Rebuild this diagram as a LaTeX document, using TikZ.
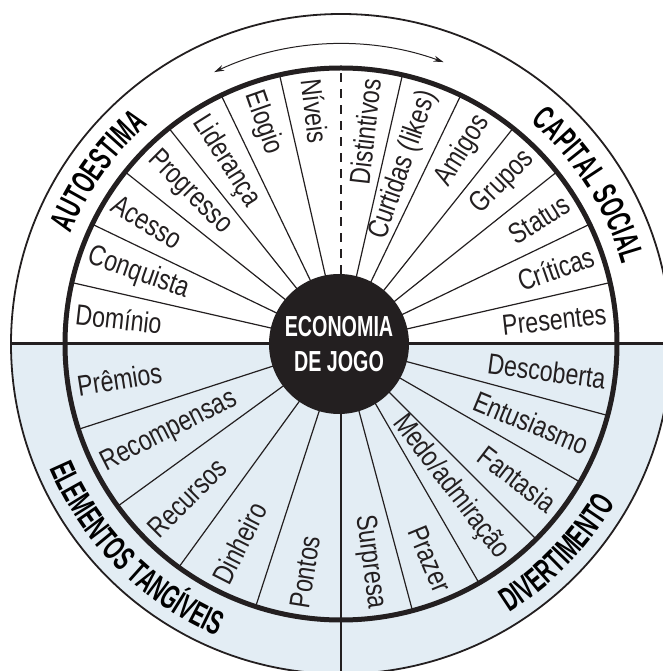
\documentclass[tikz,border=0pt]{standalone}
\usepackage{fontspec}
\setmainfont{Liberation Sans}
\newfontfamily\spokefont{Liberation Sans}[FakeStretch=0.8]
\newfontfamily\headfont{Liberation Sans}[FakeStretch=0.6]
\newfontfamily\hubfont{Liberation Sans}[FakeStretch=0.68]
\usetikzlibrary{decorations.text,arrows.meta}
\definecolor{ink}{HTML}{231F20}
\definecolor{paleblue}{HTML}{E3EDF4}
\newcommand\sectorhead{\headfont\bfseries\fontsize{34}{34}\selectfont}
\begin{document}
\begin{tikzpicture}[
  spoke/.style={line width=1.2pt, draw=ink},
  rim/.style={line width=5pt, draw=ink},
  outerrim/.style={line width=1.8pt, draw=ink},
  divider/.style={line width=3pt, draw=ink},
  item/.style={inner sep=0pt, text=ink, font=\spokefont\fontsize{29}{29}\selectfont},
  hub/.style={circle, fill=ink, minimum size=140pt, inner sep=0pt, text=white,
    align=center, font=\hubfont\bfseries\fontsize{29}{35}\selectfont},
  arcarrow/.style={line width=1pt, draw=ink, {Stealth[length=10pt,width=6pt]}-{Stealth[length=10pt,width=6pt]}},
  head/.style={decorate, decoration={text along path, text align=center}},
]
\useasboundingbox (-341pt,-327pt) rectangle (321pt,344pt);

% lower half of the wheel is tinted
\fill[paleblue] (-330pt,0pt) arc[start angle=180, end angle=360, radius=330pt] -- cycle;

% spokes of the upper half (14 sectors)
\foreach \k in {1,2,3,4,5,6,8,9,10,11,12,13}
  \draw[spoke] (0pt,0pt) -- ({\k*180/14}:276pt);
\draw[spoke, dash pattern=on 9pt off 7pt] (0pt,70pt) -- (0pt,276pt);

% spokes of the lower-left quadrant (5 sectors)
\foreach \a in {198,216,234,252}
  \draw[spoke] (0pt,0pt) -- (\a:276pt);
% spokes of the lower-right quadrant (6 sectors)
\foreach \a in {285,300,315,330,345}
  \draw[spoke] (0pt,0pt) -- (\a:276pt);

% quadrant dividers
\draw[divider] (-330pt,0pt) -- (330pt,0pt);
\draw[divider, line width=2.5pt] (0pt,0pt) -- (0pt,-340pt);

% rims
\draw[outerrim] (0pt,0pt) circle[radius=330pt];
\draw[rim] (0pt,0pt) circle[radius=276pt];

% hub
\node[hub] (hubnode) at (-2pt,0pt) {ECONOMIA\\DE JOGO};

% double arrow along the top
\draw[arcarrow] (115:300pt) arc[start angle=115, end angle=70, radius=300pt];

% upper labels
\foreach \t [count=\i from 0] in {Presentes,Críticas,Status,Grupos,Amigos,Curtidas (likes),Distintivos,
    Níveis,Elogio,Liderança,Progresso,Acesso,Conquista,Domínio} {
  \pgfmathsetmacro\a{(\i+0.5)*180/14}
  \ifnum\i<7
    \node[item, anchor=east, rotate=\a] (up\i) at (\a:267pt) {\t};
  \else
    \node[item, anchor=west, rotate=\a+180] (up\i) at (\a:267pt) {\t};
  \fi
}

% lower-left labels
\foreach \t [count=\i from 0] in {Prêmios,Recompensas,Recursos,Dinheiro,Pontos} {
  \pgfmathsetmacro\a{189+18*\i}
  \node[item, anchor=west, rotate=\a-180] (ll\i) at (\a:267pt) {\t};
}

% lower-right labels
\foreach \t [count=\i from 0] in {Surpresa,Prazer,Medo/admiração,Fantasia,Entusiasmo,Descoberta} {
  \pgfmathsetmacro\a{277.5+15*\i}
  \node[item, anchor=east, rotate=\a] (lr\i) at (\a:267pt) {\t};
}

% sector headings along the outer ring
\path[head, decoration={text={|\sectorhead|AUTOESTIMA}}]
  (174.5:292pt) arc[start angle=174.5, end angle=114.5, radius=292pt];
\path[head, decoration={text={|\sectorhead|CAPITAL SOCIAL}}]
  (62.7:292pt) arc[start angle=62.7, end angle=2.7, radius=292pt];
\path[head, decoration={text={|\sectorhead|ELEMENTOS TANGÍVEIS}}]
  (188:317pt) arc[start angle=188, end angle=262, radius=317pt];
\path[head, decoration={text={|\sectorhead|DIVERTIMENTO}}]
  (-76:317pt) arc[start angle=-76, end angle=-12, radius=317pt];
\end{tikzpicture}
\end{document}
